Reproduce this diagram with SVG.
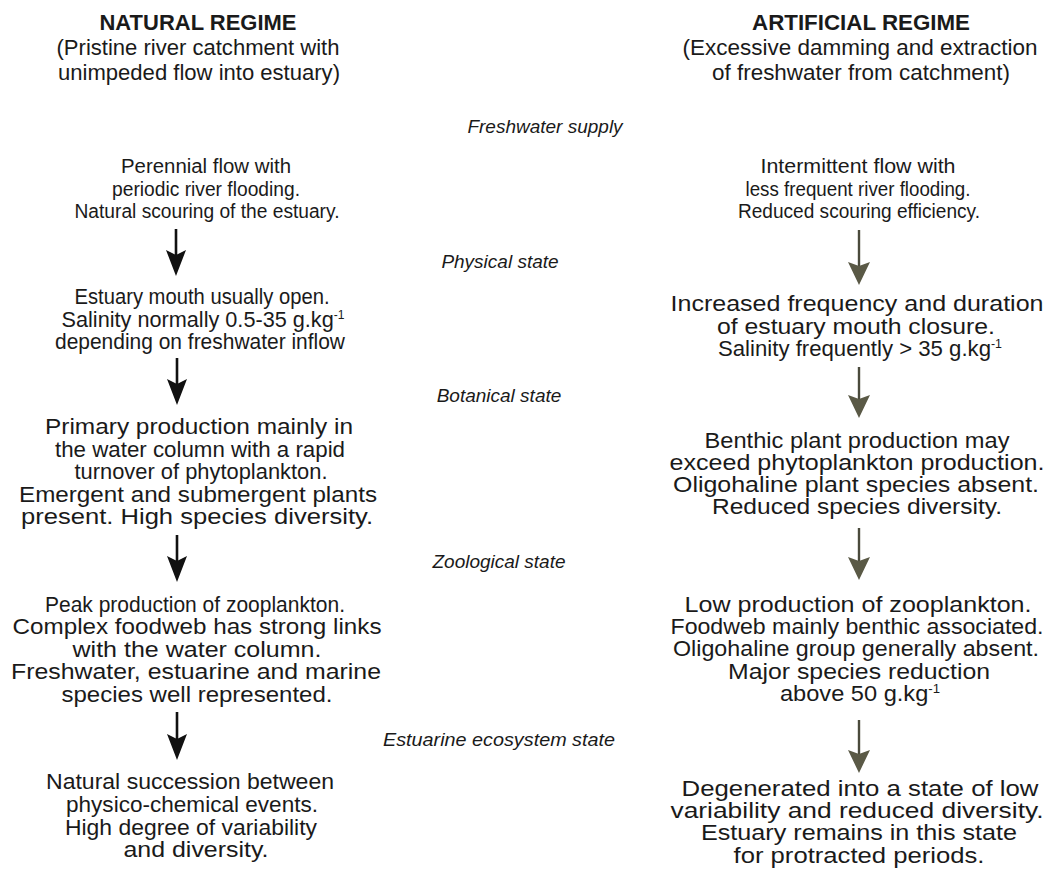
<svg xmlns="http://www.w3.org/2000/svg" width="1050" height="877" viewBox="0 0 1050 877">
<defs>
<style>
text{font-family:"Liberation Sans",Arial,sans-serif;fill:#1a1a1a;}
.t{font-size:22.5px;font-weight:bold;text-anchor:middle;}
.h{font-size:21.5px;text-anchor:middle;}
.b{font-size:21.5px;text-anchor:middle;}
.b1{font-size:20px;text-anchor:middle;}
.m{font-size:19px;font-style:italic;text-anchor:middle;}
.sup{font-size:12px;}
.la{stroke:#111;stroke-width:2.6;fill:none;}
.ra{stroke:#4a4a3c;stroke-width:2.4;fill:none;}
</style>
<marker id="hl" markerUnits="userSpaceOnUse" viewBox="0 0 20 26" refX="10" refY="18" markerWidth="20" markerHeight="26" orient="0">
<path d="M0,0 L10,26 L20,0 L10,5 Z" fill="#111"/>
</marker>
<marker id="hr" markerUnits="userSpaceOnUse" viewBox="0 0 22 24" refX="11" refY="16" markerWidth="22" markerHeight="24" orient="0">
<path d="M0,1 L11,24 L22,1 L11,5 Z" fill="#5a5946"/>
</marker>
</defs>
<rect width="1050" height="877" fill="#fff"/>

<g id="natural-header">
<text class="t" x="198" y="30" textLength="197" lengthAdjust="spacingAndGlyphs">NATURAL REGIME</text>
<text class="h" x="198" y="55" textLength="283" lengthAdjust="spacingAndGlyphs">(Pristine river catchment with</text>
<text class="h" x="199" y="80" textLength="282" lengthAdjust="spacingAndGlyphs">unimpeded flow into estuary)</text>
</g>
<g id="artificial-header">
<text class="t" x="861" y="30" textLength="218" lengthAdjust="spacingAndGlyphs">ARTIFICIAL REGIME</text>
<text class="h" x="860" y="55" textLength="355" lengthAdjust="spacingAndGlyphs">(Excessive damming and extraction</text>
<text class="h" x="861" y="80" textLength="298" lengthAdjust="spacingAndGlyphs">of freshwater from catchment)</text>
</g>

<g id="stage-labels">
<text class="m" x="545" y="133">Freshwater supply</text>
<text class="m" x="500" y="268">Physical state</text>
<text class="m" x="499" y="402">Botanical state</text>
<text class="m" x="499" y="568">Zoological state</text>
<text class="m" x="499" y="746" textLength="232" lengthAdjust="spacingAndGlyphs">Estuarine ecosystem state</text>
</g>

<g id="n1">
<text class="b1" x="206" y="173" textLength="170" lengthAdjust="spacingAndGlyphs">Perennial flow  with</text>
<text class="b1" x="206" y="196" textLength="188" lengthAdjust="spacingAndGlyphs">periodic river flooding.</text>
<text class="b1" x="207" y="218" textLength="265" lengthAdjust="spacingAndGlyphs">Natural scouring of the estuary.</text>
</g>
<g id="n2">
<text class="b" x="202" y="304" textLength="255" lengthAdjust="spacingAndGlyphs">Estuary mouth usually open.</text>
<text class="b" x="203" y="327" textLength="283" lengthAdjust="spacingAndGlyphs">Salinity normally 0.5-35 g.kg<tspan class="sup" dy="-8">-1</tspan></text>
<text class="b" x="200" y="349" textLength="290" lengthAdjust="spacingAndGlyphs">depending on freshwater inflow</text>
</g>
<g id="n3">
<text class="b" x="199" y="434" textLength="308" lengthAdjust="spacingAndGlyphs">Primary production mainly in</text>
<text class="b" x="200" y="457" textLength="290" lengthAdjust="spacingAndGlyphs">the water column with a rapid</text>
<text class="b" x="201" y="479" textLength="253" lengthAdjust="spacingAndGlyphs">turnover of phytoplankton.</text>
<text class="b" x="198" y="502" textLength="358" lengthAdjust="spacingAndGlyphs">Emergent and submergent plants</text>
<text class="b" x="197" y="524" textLength="352" lengthAdjust="spacingAndGlyphs">present. High species diversity.</text>
</g>
<g id="n4">
<text class="b" x="195" y="612" textLength="300" lengthAdjust="spacingAndGlyphs">Peak production of zooplankton.</text>
<text class="b" x="197" y="634" textLength="369" lengthAdjust="spacingAndGlyphs">Complex foodweb has strong  links</text>
<text class="b" x="197" y="657" textLength="249" lengthAdjust="spacingAndGlyphs">with the water column.</text>
<text class="b" x="196" y="679" textLength="370" lengthAdjust="spacingAndGlyphs">Freshwater, estuarine and marine</text>
<text class="b" x="197" y="702" textLength="271" lengthAdjust="spacingAndGlyphs">species well represented.</text>
</g>
<g id="n5">
<text class="b" x="190" y="789" textLength="288" lengthAdjust="spacingAndGlyphs">Natural succession between</text>
<text class="b" x="192" y="812" textLength="252" lengthAdjust="spacingAndGlyphs">physico-chemical events.</text>
<text class="b" x="191" y="835" textLength="252" lengthAdjust="spacingAndGlyphs">High degree of variability</text>
<text class="b" x="196" y="857" textLength="145" lengthAdjust="spacingAndGlyphs">and diversity.</text>
</g>

<g id="a1">
<text class="b1" x="858" y="173" textLength="195" lengthAdjust="spacingAndGlyphs">Intermittent flow with</text>
<text class="b1" x="858" y="196" textLength="225" lengthAdjust="spacingAndGlyphs">less frequent river flooding.</text>
<text class="b1" x="859" y="218" textLength="242" lengthAdjust="spacingAndGlyphs">Reduced scouring efficiency.</text>
</g>
<g id="a2">
<text class="b" x="857" y="311" textLength="373" lengthAdjust="spacingAndGlyphs">Increased frequency and duration</text>
<text class="b" x="856" y="334" textLength="278" lengthAdjust="spacingAndGlyphs">of estuary mouth closure.</text>
<text class="b" x="860" y="356" textLength="284" lengthAdjust="spacingAndGlyphs">Salinity frequently &gt; 35 g.kg<tspan class="sup" dy="-8">-1</tspan></text>
</g>
<g id="a3">
<text class="b" x="857" y="448" textLength="305" lengthAdjust="spacingAndGlyphs">Benthic plant production may</text>
<text class="b" x="857" y="470" textLength="375" lengthAdjust="spacingAndGlyphs">exceed phytoplankton production.</text>
<text class="b" x="856" y="492" textLength="366" lengthAdjust="spacingAndGlyphs">Oligohaline plant species absent.</text>
<text class="b" x="857" y="514" textLength="290" lengthAdjust="spacingAndGlyphs">Reduced species diversity.</text>
</g>
<g id="a4">
<text class="b" x="858" y="612" textLength="347" lengthAdjust="spacingAndGlyphs">Low production of zooplankton.</text>
<text class="b" x="857" y="634" textLength="373" lengthAdjust="spacingAndGlyphs">Foodweb mainly benthic associated.</text>
<text class="b" x="856" y="656" textLength="366" lengthAdjust="spacingAndGlyphs">Oligohaline group generally absent.</text>
<text class="b" x="859" y="679" textLength="262" lengthAdjust="spacingAndGlyphs">Major species reduction</text>
<text class="b" x="860" y="701" textLength="160" lengthAdjust="spacingAndGlyphs">above 50 g.kg<tspan class="sup" dy="-8">-1</tspan></text>
</g>
<g id="a5">
<text class="b" x="860" y="796" textLength="357" lengthAdjust="spacingAndGlyphs">Degenerated into a state of low</text>
<text class="b" x="857" y="818" textLength="373" lengthAdjust="spacingAndGlyphs">variability and reduced diversity.</text>
<text class="b" x="859" y="840" textLength="316" lengthAdjust="spacingAndGlyphs">Estuary remains in this state</text>
<text class="b" x="859" y="863" textLength="251" lengthAdjust="spacingAndGlyphs">for protracted periods.</text>
</g>

<g id="connectors">
<line class="la" x1="176" y1="229" x2="176" y2="268" marker-end="url(#hl)"/>
<line class="la" x1="177" y1="358" x2="177" y2="397" marker-end="url(#hl)"/>
<line class="la" x1="177" y1="535" x2="177" y2="574" marker-end="url(#hl)"/>
<line class="la" x1="177" y1="712" x2="177" y2="752" marker-end="url(#hl)"/>
<line class="ra" x1="859" y1="230" x2="859" y2="277" marker-end="url(#hr)"/>
<line class="ra" x1="859" y1="367" x2="859" y2="410" marker-end="url(#hr)"/>
<line class="ra" x1="859" y1="528" x2="859" y2="572" marker-end="url(#hr)"/>
<line class="ra" x1="859" y1="720" x2="859" y2="765" marker-end="url(#hr)"/>
</g>
</svg>
